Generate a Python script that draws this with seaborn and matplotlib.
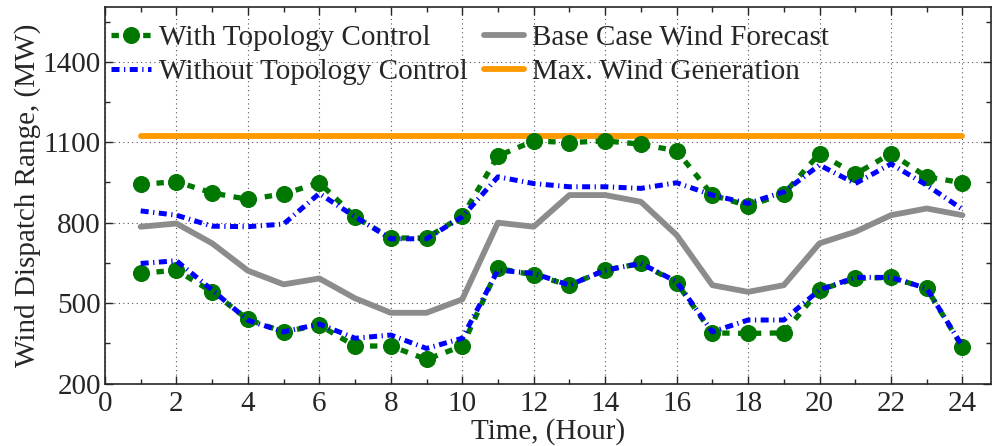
import numpy as np
import pandas as pd
import matplotlib
matplotlib.use("Agg")
import matplotlib.pyplot as plt
from matplotlib.ticker import MultipleLocator, FixedLocator
import seaborn as sns

hours = list(range(1, 25))

with_tc_upper = [943, 953, 911, 887, 907, 949, 822, 743, 743, 824, 1049, 1105,
                 1099, 1105, 1093, 1068, 903, 863, 907, 1058, 981, 1058, 971, 949]
with_tc_lower = [611, 623, 542, 439, 393, 418, 340, 340, 290, 340, 630, 605,
                 567, 623, 648, 576, 389, 387, 389, 549, 592, 596, 555, 335]
without_tc_upper = [844, 828, 787, 785, 795, 909, 822, 740, 740, 822, 971, 946,
                    934, 934, 928, 949, 903, 872, 915, 1015, 946, 1019, 940, 850]
without_tc_lower = [648, 658, 549, 436, 393, 422, 369, 381, 331, 369, 623, 611,
                    567, 623, 648, 580, 393, 437, 437, 549, 596, 596, 555, 339]
base_forecast = [785, 797, 723, 621, 570, 592, 518, 464, 464, 514, 800, 785,
                 903, 903, 878, 754, 567, 542, 567, 723, 766, 828, 853, 828]
max_wind = [1125] * 24

y_ticks = [200, 500, 800, 1100, 1400]
x_ticks = list(range(0, 25, 2))

labels = ["With Topology Control", "Without Topology Control",
          "Base Case Wind Forecast", "Max. Wind Generation"]

sns.set_style("ticks")
plt.rcParams["font.family"] = ["Liberation Serif", "DejaVu Serif"]

df = pd.DataFrame({
    "hour": hours,
    "with_up": with_tc_upper, "with_lo": with_tc_lower,
    "wo_up": without_tc_upper, "wo_lo": without_tc_lower,
    "base": base_forecast, "max": max_wind,
})

fig = plt.figure(figsize=(9.92, 4.46), dpi=100)
ax = fig.add_axes([0.1058, 0.140, 0.8932, 0.844])

green = "#007700"
blue = "#0000ff"
gray = "#8c8c8c"
orange = "#ff9900"
fs = 21

sns.lineplot(data=df, x="hour", y="max", ax=ax, color=orange, lw=4.2,
             label=labels[3], zorder=2)
sns.lineplot(data=df, x="hour", y="base", ax=ax, color=gray, lw=4.2,
             label=labels[2], zorder=2)
for col, lab in (("with_up", labels[0]), ("with_lo", None)):
    sns.lineplot(data=df, x="hour", y=col, ax=ax, color=green, lw=3.8,
                 marker="o", markersize=11.5, markeredgecolor=green,
                 label=lab, zorder=3)
    ax.lines[-1].set_dashes([1.4, 1.6])
for col, lab in (("wo_up", labels[1]), ("wo_lo", None)):
    sns.lineplot(data=df, x="hour", y=col, ax=ax, color=blue, lw=3.6,
                 label=lab, zorder=4)
    ax.lines[-1].set_dashes([1.6, 0.9, 0.25, 0.9])

handles, labs = ax.get_legend_handles_labels()
order = [labs.index(l) for l in labels]
ax.legend([handles[i] for i in order], [labs[i] for i in order],
          ncol=2, loc="upper left", frameon=False, fontsize=fs,
          handlelength=1.35, handletextpad=0.3, columnspacing=0.55,
          labelspacing=0.28, borderaxespad=0.0, bbox_to_anchor=(-0.006, 0.985))

ax.set_xlim(0, 24.8)
ax.set_ylim(200, 1604)
ax.xaxis.set_major_locator(FixedLocator(x_ticks))
ax.xaxis.set_minor_locator(MultipleLocator(1))
ax.yaxis.set_major_locator(FixedLocator(y_ticks))
ax.yaxis.set_minor_locator(FixedLocator([350, 650, 950, 1250, 1550]))
ax.tick_params(which="both", direction="in", top=True, right=True,
               labelsize=fs, width=1.0)
ax.tick_params(axis="x", pad=5)
ax.tick_params(axis="y", pad=3)
ax.tick_params(which="major", length=6)
ax.tick_params(which="minor", length=3.5)
ax.grid(True, which="major", linestyle=(0, (1, 3)), color="#555555", lw=0.8)
for s in ax.spines.values():
    s.set_linewidth(1.2)

ax.set_xlabel("Time, (Hour)", fontsize=fs, labelpad=1)
ax.set_ylabel("Wind Dispatch Range, (MW)", fontsize=fs, labelpad=1)

fig.savefig("out.png", dpi=100)
